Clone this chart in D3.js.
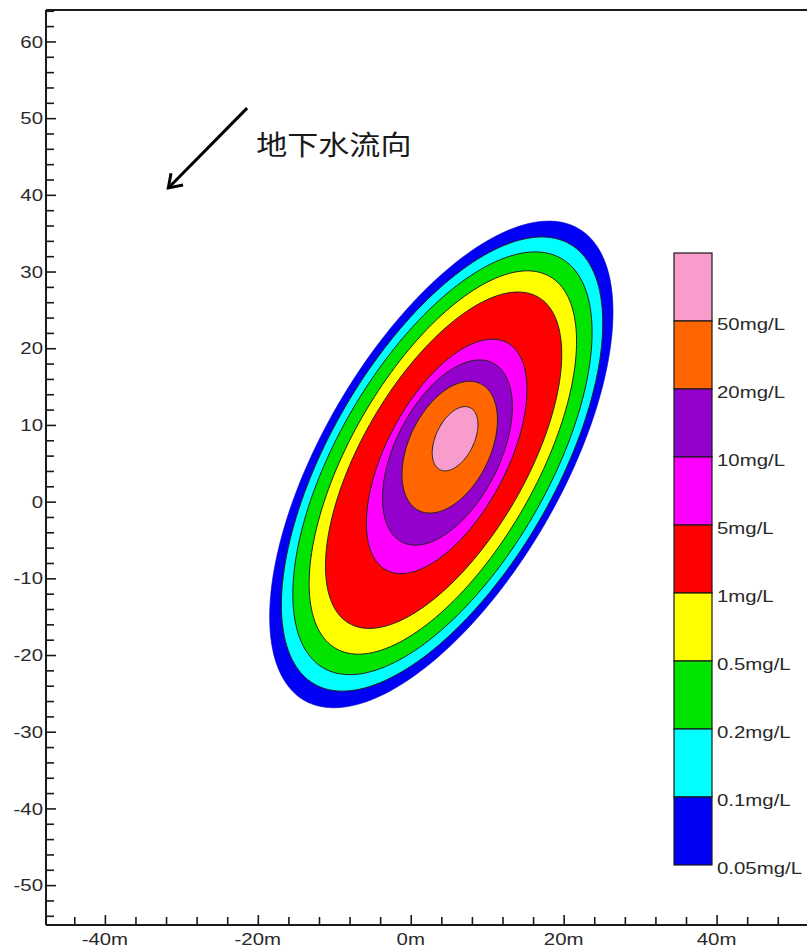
<!DOCTYPE html>
<html><head><meta charset="utf-8">
<script src="https://cdn.jsdelivr.net/npm/d3@7"></script>
<style>html,body{margin:0;padding:0;background:#fff;} svg{display:block}</style>
</head><body><svg id="c" width="807" height="952"></svg>
<script>
// ---- data ----
const levels = ["0.05mg/L","0.1mg/L","0.2mg/L","0.5mg/L","1mg/L","5mg/L","10mg/L","20mg/L","50mg/L"];
const bandColors = ["#0000F5","#00FFFF","#00E400","#FFFF00","#FF0000","#FF00FF","#9400CC","#FF6600","#F79CCB"];
// contour of each level approximated by a rotated ellipse (data units, metres)
const contourCx = [4.0, 4.1, 4.15, 4.2, 4.3, 4.7, 4.8, 5.1, 5.8];
const contourCy = [4.85, 4.9, 5.0, 5.1, 5.4, 5.9, 6.4, 7.1, 8.2];
const contourA  = [35.6, 33.2, 30.9, 28.0, 24.6, 16.8, 13.1, 9.2, 4.5];
const contourB  = [15.6, 14.7, 13.7, 12.1, 10.7, 7.85, 6.8, 5.3, 2.5];
const contourAngle = [59.7, 59.7, 59.7, 60, 59.8, 62, 63, 64, 64];
const xTicks = [-40, -20, 0, 20, 40];
const xTickLabels = ["-40m", "-20m", "0m", "20m", "40m"];
const yTicks = [60, 50, 40, 30, 20, 10, 0, -10, -20, -30, -40, -50];
const yTickLabels = ["60", "50", "40", "30", "20", "10", "0", "-10", "-20", "-30", "-40", "-50"];
const annotationText = "地下水流向";

// ---- layout ----
const svg = d3.select("#c");
const x = d3.scaleLinear().domain([-47.7, 53]).range([46, 816]);
const y = d3.scaleLinear().domain([-55.2, 64.1]).range([925, 10]);
const textColor = "#2a2a2a";
const stretch = 1.2;
const fs = 17;
const fontFam = "'Liberation Sans', Arial, sans-serif";

// contours
const line = d3.line().curve(d3.curveLinearClosed);
function ellipse(i) {
  const th = contourAngle[i] * Math.PI / 180, c = Math.cos(th), s = Math.sin(th);
  return d3.range(0, 360, 2).map(deg => {
    const t = deg * Math.PI / 180;
    const u = contourA[i] * Math.cos(t), v = contourB[i] * Math.sin(t);
    return [x(contourCx[i] + u * c - v * s), y(contourCy[i] + u * s + v * c)];
  });
}
svg.append("g").selectAll("path").data(levels).join("path")
  .attr("d", (d, i) => line(ellipse(i)))
  .attr("fill", (d, i) => bandColors[i])
  .attr("stroke", (d, i) => i === 0 ? "#0000c0" : "#222")
  .attr("stroke-width", (d, i) => i === 0 ? 0.6 : 1);

// axes
const axisG = svg.append("g");
axisG.append("line").attr("x1", x.range()[0]).attr("x2", 807).attr("y1", y.range()[1]).attr("y2", y.range()[1])
  .attr("stroke", "#1a1a1a").attr("stroke-width", 2);

const yMinor = d3.range(-54, 65, 2).filter(v => v % 10 !== 0);
const xMinor = d3.range(-44, 53, 4).filter(v => v % 20 !== 0);

const yAxisMinor = axisG.append("g").attr("transform", `translate(${x.range()[0]},0)`)
  .call(d3.axisRight(y).tickValues(yMinor).tickSize(8).tickFormat(""));
const yAxisMajor = axisG.append("g").attr("transform", `translate(${x.range()[0]},0)`)
  .call(d3.axisRight(y).tickValues(yTicks).tickSize(10).tickFormat(""));
const xAxisMinor = axisG.append("g").attr("transform", `translate(0,${y.range()[0]})`)
  .call(d3.axisTop(x).tickValues(xMinor).tickSize(8).tickFormat(""));
const xAxisMajor = axisG.append("g").attr("transform", `translate(0,${y.range()[0]})`)
  .call(d3.axisTop(x).tickValues(xTicks).tickSize(10).tickFormat(""));
axisG.selectAll(".domain").attr("stroke", "#1a1a1a").attr("stroke-width", 2);
axisG.selectAll(".tick line").attr("stroke", "#1a1a1a").attr("stroke-width", 1.6);
yAxisMinor.select(".domain").remove();
xAxisMinor.select(".domain").remove();
yAxisMajor.select(".domain").attr("d", `M0,${y.range()[1]}V${y.range()[0]}`);
xAxisMajor.select(".domain").attr("d", `M${x.range()[0]},0H807`);

// tick labels
svg.append("g").selectAll("text").data(yTicks).join("text")
  .attr("transform", d => `translate(${x.range()[0] - 3},${y(d)}) scale(${stretch},1)`)
  .attr("text-anchor", "end").attr("dy", "0.36em")
  .attr("font-family", fontFam).attr("font-size", fs).attr("fill", textColor)
  .text((d, i) => yTickLabels[i]);
svg.append("g").selectAll("text").data(xTicks).join("text")
  .attr("transform", d => `translate(${x(d)},${y.range()[0] + 20}) scale(${stretch},1)`)
  .attr("text-anchor", "middle")
  .attr("font-family", fontFam).attr("font-size", fs).attr("fill", textColor)
  .text((d, i) => xTickLabels[i]);

// legend
const legendOrder = levels.slice().reverse();
const colorOrder = bandColors.slice().reverse();
const lg = d3.scaleBand().domain(legendOrder).range([253, 865]);
const lx0 = 674, lw = 38;
const leg = svg.append("g");
leg.selectAll("rect").data(legendOrder).join("rect")
  .attr("x", lx0).attr("y", d => lg(d)).attr("width", lw).attr("height", lg.bandwidth())
  .attr("fill", (d, i) => colorOrder[i]).attr("stroke", "#1a1a1a").attr("stroke-width", 1.2);
leg.selectAll("text").data(legendOrder).join("text")
  .attr("transform", d => `translate(${lx0 + lw + 5},${lg(d) + lg.bandwidth() + 3}) scale(${stretch},1)`)
  .attr("dy", "0.36em")
  .attr("font-family", fontFam).attr("font-size", fs).attr("fill", textColor)
  .text(d => d);

// flow arrow annotation
const tail = [x(-21.4), y(51.3)], tip = [x(-31.7), y(40.9)];
const ang = Math.atan2(tail[1] - tip[1], tail[0] - tip[0]);
const wl = 15, wa = 0.6;
svg.append("line").attr("x1", tail[0]).attr("y1", tail[1]).attr("x2", tip[0]).attr("y2", tip[1])
  .attr("stroke", "#000").attr("stroke-width", 3);
svg.append("path")
  .attr("d", `M${tip[0] + wl * Math.cos(ang - wa)},${tip[1] + wl * Math.sin(ang - wa)}L${tip[0]},${tip[1]}L${tip[0] + wl * Math.cos(ang + wa)},${tip[1] + wl * Math.sin(ang + wa)}`)
  .attr("fill", "none").attr("stroke", "#000").attr("stroke-width", 3).attr("stroke-linejoin", "miter");
svg.append("text")
  .attr("transform", `translate(${x(-20.2)},${y(45.2)}) scale(1.15,1)`)
  .attr("font-family", "'Noto Sans CJK SC', sans-serif").attr("font-size", 27)
  .attr("fill", "#1a1a1a")
  .text(annotationText);
</script></body></html>
